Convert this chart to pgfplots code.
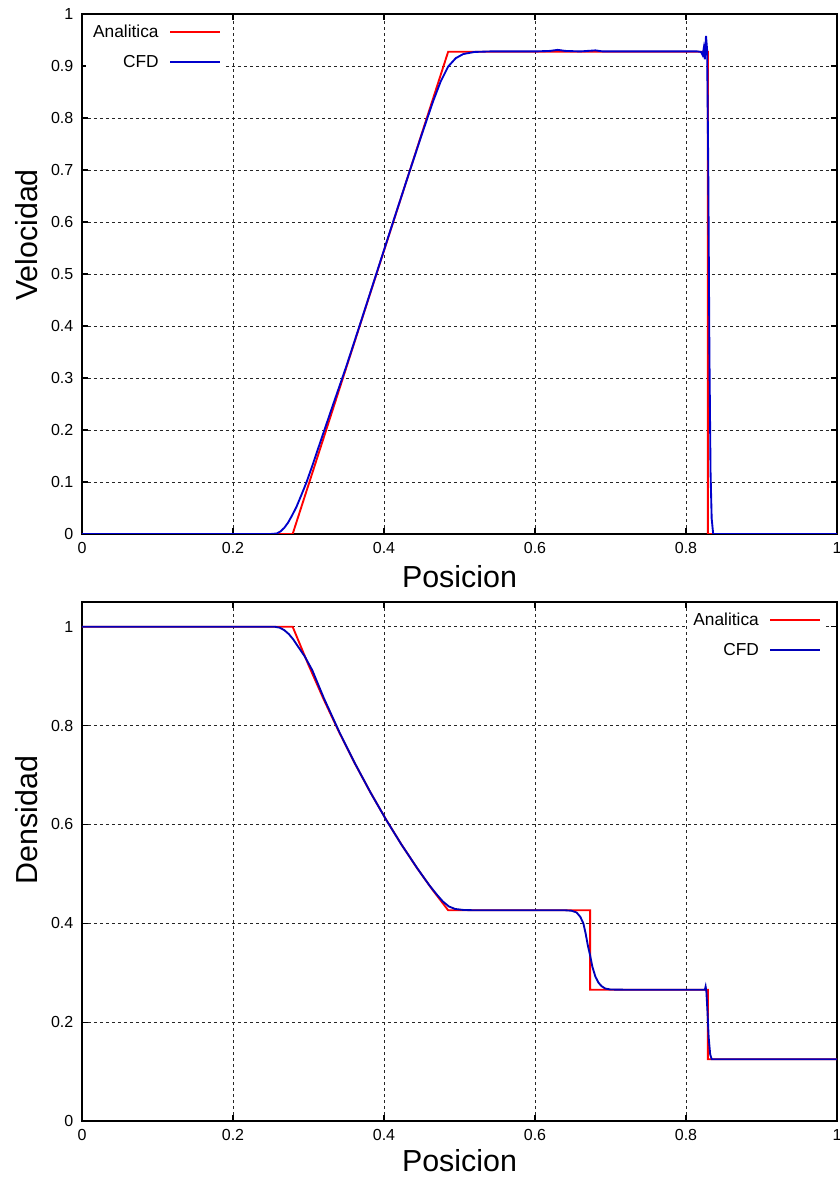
\documentclass[border=0pt]{standalone}
\usepackage{fontspec}
\setmainfont{Liberation Sans}
\usepackage{pgfplots}
\pgfplotsset{compat=1.18}

\definecolor{cfdblue}{rgb}{0,0,0.8}
\definecolor{cfdnavy}{rgb}{0,0,0.72}

% common look of both panels (gnuplot-like)
\pgfplotsset{
  sodpanel/.style={
    scale only axis,
    width=566.25pt,
    xmin=0, xmax=1,
    xtick={0,0.2,0.4,0.6,0.8,1},
    tick align=inside,
    major tick length=4.5pt,
    tick style={black, line width=0.8pt},
    axis line style={line width=1.5pt},
    grid=major,
    grid style={black!85, line width=0.6pt, dash pattern=on 2.25pt off 2.25pt},
    tick label style={font=\fontsize{12}{14}\selectfont},
    yticklabel style={xshift=-3pt},
    xticklabel style={yshift=-3pt},
    label style={font=\fontsize{22.8}{27}\selectfont},
    /pgf/number format/assume math mode=true,
    xlabel={Posicion},
    legend cell align=right,
    legend plot pos=right,
    legend style={draw=none, fill=white, font=\fontsize{13}{15}\selectfont,
      row sep=8pt, nodes={inner sep=2pt}},
    legend image code/.code={
      \path (0pt,0pt);
      \draw[##1, line width=1.4pt] (6pt,0pt) -- (43.5pt,0pt);},
  }
}

\begin{document}
\begin{tikzpicture}

% ---------------- Velocidad ----------------
\begin{axis}[
  sodpanel,
  at={(0pt,440.25pt)}, anchor=south west,
  height=390pt,
  ymin=0, ymax=1,
  ytick={0,0.1,0.2,0.3,0.4,0.5,0.6,0.7,0.8,0.9,1},
  ylabel={Velocidad},
  ylabel style={at={(axis description cs:-0.0728,0.575)}, anchor=center},
  xlabel style={at={(axis description cs:0.5,-0.102)}, anchor=base},
  legend style={at={(axis description cs:0.19,0.99)}, anchor=north east},
]
\addplot[red, line width=1.4pt] coordinates {
  (0,0)(0.279,0)(0.485,0.9275)(0.829,0.9275)(0.829,0)(1,0)
};
\addlegendentry{Analitica}

\addplot[cfdblue, line width=1.4pt] coordinates {
  (0,0)(0.250,0)(0.258,0.001)(0.263,0.005)(0.268,0.012)(0.273,0.022)
  (0.278,0.035)(0.284,0.052)(0.290,0.073)(0.297,0.098)(0.305,0.131)
  (0.315,0.174)(0.330,0.238)(0.350,0.322)(0.370,0.411)(0.390,0.501)
  (0.410,0.591)(0.430,0.680)(0.450,0.768)(0.465,0.832)(0.475,0.870)
  (0.485,0.899)(0.495,0.915)(0.505,0.923)(0.520,0.927)(0.540,0.928)
  (0.600,0.928)(0.620,0.929)(0.630,0.931)(0.640,0.929)(0.660,0.928)
  (0.680,0.930)(0.690,0.928)(0.800,0.928)(0.815,0.928)(0.820,0.927)
  (0.822,0.921)(0.8235,0.934)(0.825,0.913)(0.8265,0.958)(0.828,0.930)
  (0.8295,0.700)(0.831,0.350)(0.8325,0.120)(0.834,0.030)(0.836,0)(1,0)
};
\addlegendentry{CFD}
\end{axis}

% ---------------- Densidad ----------------
\begin{axis}[
  sodpanel,
  at={(0pt,0pt)}, anchor=south west,
  height=389.25pt,
  ymin=0, ymax=1.05,
  ytick={0,0.2,0.4,0.6,0.8,1},
  ylabel={Densidad},
  ylabel style={at={(axis description cs:-0.0728,0.58)}, anchor=center},
  xlabel style={at={(axis description cs:0.5,-0.098)}, anchor=base},
  legend style={at={(axis description cs:0.985,0.99)}, anchor=north east},
]
\addplot[red, line width=1.4pt] coordinates {
  (0,1)(0.279,1)(0.2996,0.9240)(0.3202,0.8527)(0.3408,0.7859)
  (0.3614,0.7233)(0.382,0.6649)(0.4026,0.6102)(0.4232,0.5592)
  (0.4438,0.5116)(0.4644,0.4674)(0.485,0.4263)(0.673,0.4263)
  (0.673,0.2656)(0.829,0.2656)(0.829,0.125)(1,0.125)
};
\addlegendentry{Analitica}

\addplot[cfdnavy, line width=1.4pt] coordinates {
  (0,1)(0.255,1)(0.262,0.998)(0.268,0.993)(0.274,0.985)(0.280,0.974)
  (0.287,0.958)(0.295,0.940)(0.305,0.912)(0.3202,0.856)(0.3408,0.787)
  (0.3614,0.7238)(0.382,0.665)(0.4026,0.610)(0.4232,0.559)(0.4438,0.5118)
  (0.460,0.477)(0.470,0.458)(0.478,0.444)(0.486,0.434)(0.494,0.429)
  (0.505,0.427)(0.520,0.4263)(0.640,0.4263)(0.648,0.4255)(0.655,0.422)
  (0.660,0.413)(0.664,0.400)(0.667,0.380)(0.670,0.355)(0.673,0.335)
  (0.676,0.312)(0.680,0.292)(0.684,0.280)(0.688,0.273)(0.693,0.268)
  (0.700,0.266)(0.720,0.2656)(0.825,0.2656)(0.826,0.272)(0.827,0.262)
  (0.8285,0.220)(0.830,0.170)(0.832,0.135)(0.834,0.125)(1,0.125)
};
\addlegendentry{CFD}
\end{axis}

\pgfresetboundingbox
\useasboundingbox (-61.5pt,-42.75pt) rectangle (567.75pt,840.75pt);
\end{tikzpicture}
\end{document}
